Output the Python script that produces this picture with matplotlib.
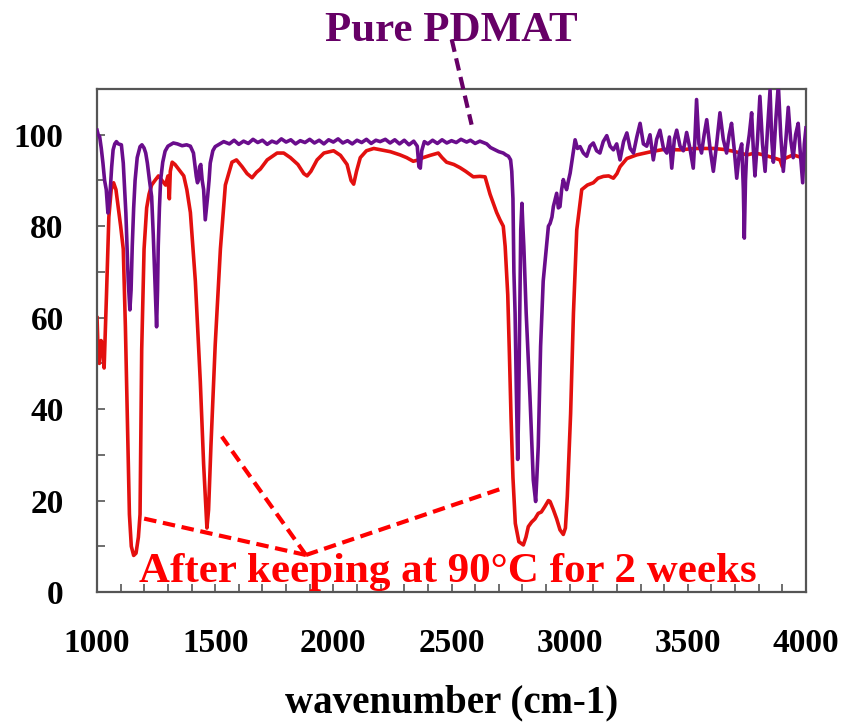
import matplotlib
matplotlib.use('Agg')
import matplotlib.pyplot as plt
from matplotlib.ticker import MultipleLocator

plt.rcParams['font.family'] = ['Liberation Serif', 'DejaVu Serif']
plt.rcParams['font.weight'] = 'bold'

# 加热后 (red)
wn_aged = [1000, 1005, 1010, 1017, 1024, 1030, 1040, 1050, 1060, 1070, 1080, 1090, 1100, 1111,
           1120, 1125, 1137, 1145, 1155, 1165, 1175, 1182, 1189, 1199, 1210, 1220, 1231, 1245,
           1260, 1275, 1290, 1300, 1306, 1310, 1318, 1330, 1345, 1367, 1380, 1395, 1416, 1437,
           1451, 1465, 1472, 1482, 1500, 1522, 1543, 1571, 1590, 1614, 1635, 1656, 1675, 1691,
           1720, 1762, 1790, 1818, 1850, 1875, 1889, 1905, 1931, 1960, 2001, 2030, 2058, 2075,
           2086, 2098, 2114, 2140, 2171, 2200, 2241, 2282, 2310, 2338, 2360, 2380, 2410, 2444,
           2460, 2479, 2510, 2536, 2560, 2592, 2620, 2642, 2663, 2691, 2705, 2719, 2727, 2738,
           2745, 2752, 2760, 2770, 2785, 2804, 2815, 2825, 2839, 2853, 2867, 2880, 2895, 2910,
           2917, 2931, 2945, 2959, 2973, 2982, 2990, 3004, 3016, 3030, 3051, 3075, 3100, 3120,
           3143, 3165, 3185, 3200, 3213, 3242, 3284, 3320, 3354, 3400, 3467, 3530, 3608, 3650,
           3693, 3750, 3785, 3820, 3860, 3890, 3900, 3910, 3946, 3970, 3995, 4000]
t_aged = [60, 52, 50, 55, 54, 49, 65, 82, 88, 89.5, 88, 84, 80, 75,
          58, 46, 17, 10, 8, 8.5, 12, 17, 53, 75, 84, 87, 89, 90,
          91, 90, 89, 91, 86, 92, 94, 93.5, 92.5, 91, 88, 83, 68, 46,
          28, 14, 18, 32, 54, 75, 89, 94, 94.5, 93, 91.5, 90.6, 91.8, 92.5,
          94.5, 96, 96, 95, 93.5, 91.5, 91, 92, 94.5, 96, 96.5, 95.5, 93.5, 90,
          89.2, 92, 95, 96.5, 97, 96.7, 96.3, 95.6, 95, 94.2, 94.5, 95, 95.5, 96,
          95, 94, 93.5, 92.8, 92, 90.8, 90.9, 90.8, 87, 83, 81.4, 80, 75.6, 65,
          52, 38, 25, 15, 11, 10.3, 12, 14.3, 15.3, 16, 17.2, 17.5, 18.7, 20,
          19.8, 18, 16, 13.6, 12.6, 14, 20.9, 39, 61, 79.2, 88, 89, 89.5, 90.5,
          90.9, 91, 90.5, 91.5, 93, 94.8, 95.6, 96, 96.4, 96.8, 96.7, 97, 97, 96.8,
          96.4, 95.6, 96, 95.6, 95, 94.5, 93, 94.8, 95.6, 95.2, 95, 95]

# 纯 PDMAT (purple)
wn_pure = [1000, 1005, 1011, 1018, 1025, 1032, 1039, 1046, 1051, 1056, 1062, 1068, 1075, 1082,
           1090, 1103, 1111, 1122, 1132, 1139, 1144, 1149, 1155, 1161, 1170, 1182, 1190, 1199,
           1206, 1213, 1222, 1231, 1238, 1245, 1252, 1256, 1259, 1264, 1269, 1278, 1288, 1300,
           1323, 1340, 1360, 1379, 1395, 1408, 1415, 1420, 1425, 1429, 1434, 1439, 1445, 1451,
           1458, 1463, 1468, 1474, 1479, 1490, 1500, 1520, 1536, 1560, 1580, 1600, 1620, 1640,
           1660, 1680, 1700, 1720, 1740, 1760, 1780, 1800, 1820, 1840, 1860, 1880, 1900, 1920,
           1940, 1960, 1980, 2000, 2020, 2040, 2060, 2080, 2100, 2120, 2140, 2160, 2180, 2198,
           2220, 2240, 2260, 2280, 2300, 2320, 2340, 2355, 2362, 2368, 2374, 2385, 2400, 2420,
           2440, 2460, 2480, 2500, 2520, 2540, 2564, 2580, 2600, 2620, 2649, 2665, 2684, 2700,
           2719, 2730, 2741, 2750, 2755, 2760, 2764, 2769, 2774, 2780, 2784, 2787, 2790, 2793,
           2798, 2802, 2806, 2816, 2832, 2846, 2856, 2861, 2867, 2877, 2888, 2902, 2910, 2917,
           2925, 2931, 2945, 2952, 2959, 2966, 2973, 2980, 2987, 2995, 3002, 3012, 3023, 3033,
           3044, 3058, 3072, 3086, 3100, 3114, 3128, 3142, 3157, 3171, 3185, 3199, 3213, 3228,
           3242, 3256, 3270, 3284, 3298, 3312, 3326, 3340, 3354, 3368, 3382, 3397, 3411, 3422,
           3432, 3443, 3453, 3467, 3481, 3495, 3509, 3523, 3530, 3537, 3547, 3558, 3569, 3580,
           3594, 3608, 3622, 3636, 3650, 3664, 3675, 3685, 3696, 3707, 3718, 3728, 3735, 3739,
           3744, 3749, 3760, 3770, 3777, 3784, 3795, 3805, 3816, 3827, 3837, 3848, 3855, 3862,
           3872, 3883, 3893, 3904, 3915, 3925, 3935, 3946, 3956, 3967, 3976, 3986, 3993, 4000]
t_pure = [101, 100, 99.6, 97, 93.8, 90, 88, 82.9, 85, 88, 93, 96.7, 98, 98.5,
          98, 97.8, 93.8, 82.9, 68, 61.7, 66, 75.6, 84, 90, 95, 97.4, 97.8, 97.1,
          96, 93.8, 90, 86.5, 78, 68, 58, 66, 75.6, 84, 90, 94, 96.4, 97.5,
          98.2, 98, 97.6, 97.8, 97.5, 96, 93, 90.9, 89.5, 90.1, 93, 93.5, 90, 88,
          81.4, 84, 86.5, 90, 93.8, 96.5, 97.4, 98, 98.5, 98.0, 98.8, 97.9, 98.6, 98.1,
          99.0, 98.3, 98.8, 97.9, 98.6, 98.2, 99.1, 98.4, 98.9, 98.0, 98.7, 98.3, 99.0, 98.2,
          98.8, 98.0, 98.9, 98.4, 99.1, 98.2, 98.7, 98.0, 98.8, 98.3, 99.0, 98.1, 98.8, 98.5,
          99.0, 98.2, 98.9, 98.0, 98.8, 97.8, 98.6, 97.5, 93.0, 92.7, 96.5, 98.5, 98.0, 98.8,
          98.1, 98.9, 98.2, 98.7, 98.3, 99.0, 98.4, 98.8, 98.1, 98.6, 98.0, 97.2, 96.7, 96.3,
          96.0, 95.6, 95.3, 94.5, 92, 86, 70, 61, 45, 29, 40, 53.7, 68, 79.2,
          85, 80, 75.6, 61, 42.7, 24.5, 19.8, 25, 31.8, 53.7, 68, 75.6, 80, 80.6,
          82, 84.3, 87.2, 84, 84.3, 88, 90.2, 89, 88, 90, 91.6, 95, 98.9, 97.0,
          97.4, 96.0, 95.3, 97.5, 98.2, 96.5, 96.0, 98.5, 99.8, 97.5, 96.7, 98.0, 94.5, 98.5,
          100.4, 97.0, 96.0, 99.5, 102.5, 98.0, 97.5, 100.0, 94.5, 99.0, 101.0, 97.0, 96.0, 99.5,
          92.7, 99.0, 101.0, 97.5, 96.5, 100.5, 97.0, 92.7, 99.0, 107.7, 98.0, 96.0, 100.0, 103.3,
          97.0, 92.0, 98.0, 104.8, 99.0, 96.0, 100.0, 102.5, 97.0, 90.5, 96.0, 98.0, 88, 77.4,
          90, 96.0, 100, 104.8, 97, 91.0, 99, 108.4, 98, 92.0, 101, 109.8, 99, 94.0,
          103, 111, 100, 92.0, 99, 106.0, 99, 95.0, 100, 102.5, 96, 89.5, 98, 101.5]

purple = '#6a0d8c'
red = '#e3100f'

fig = plt.figure(figsize=[8.46, 7.22], dpi=100)
ax = fig.add_axes([0.1147, 0.18, 0.838, 0.6967])

ax.plot(wn_aged, t_aged, '-', c=red, lw=2.6, zorder=2)
ax.plot(wn_pure, t_pure, '-', c=purple, lw=2.6, zorder=3)

ax.set_xlim(1000, 4000)
ax.set_ylim(0, 110)
ax.xaxis.set_major_locator(MultipleLocator(500))
ax.xaxis.set_minor_locator(MultipleLocator(100))
ax.yaxis.set_major_locator(MultipleLocator(20))
ax.yaxis.set_minor_locator(MultipleLocator(10))
ax.tick_params(which='both', direction='in', length=6, width=1.2, color='#555555',
               top=False, right=False)
ax.tick_params(axis='x', which='major', pad=26, labelsize=24)
ax.tick_params(axis='y', which='major', pad=24, labelsize=24)
for s in ax.spines.values():
    s.set_color('#555555')
    s.set_linewidth(1.6)

ax.set_xlabel('wavenumber (cm-1)', fontsize=28, fontweight='bold', labelpad=18)

# 标注
ax.text(2498, 120.4, 'Pure PDMAT', color='#660066', fontsize=31, fontweight='bold',
        ha='center', va='baseline', clip_on=False)
ax.plot([2501, 2585], [120.8, 102.2], c='#660066', lw=3, ls=(0, (3, 1.6)), clip_on=False, zorder=4)

for x0, y0 in [(1196, 16.1), (1528, 34), (2705, 22.5)]:
    ax.plot([1884, x0], [8.1, y0], c='#ff0000', lw=3, ls=(0, (3, 1.6)), zorder=4)
ax.text(2485, 2.2, 'After keeping at 90°C for 2 weeks', color='#ff0000', fontsize=31,
        fontweight='bold', ha='center', va='baseline', zorder=5)

plt.savefig('out.png', dpi=100)
